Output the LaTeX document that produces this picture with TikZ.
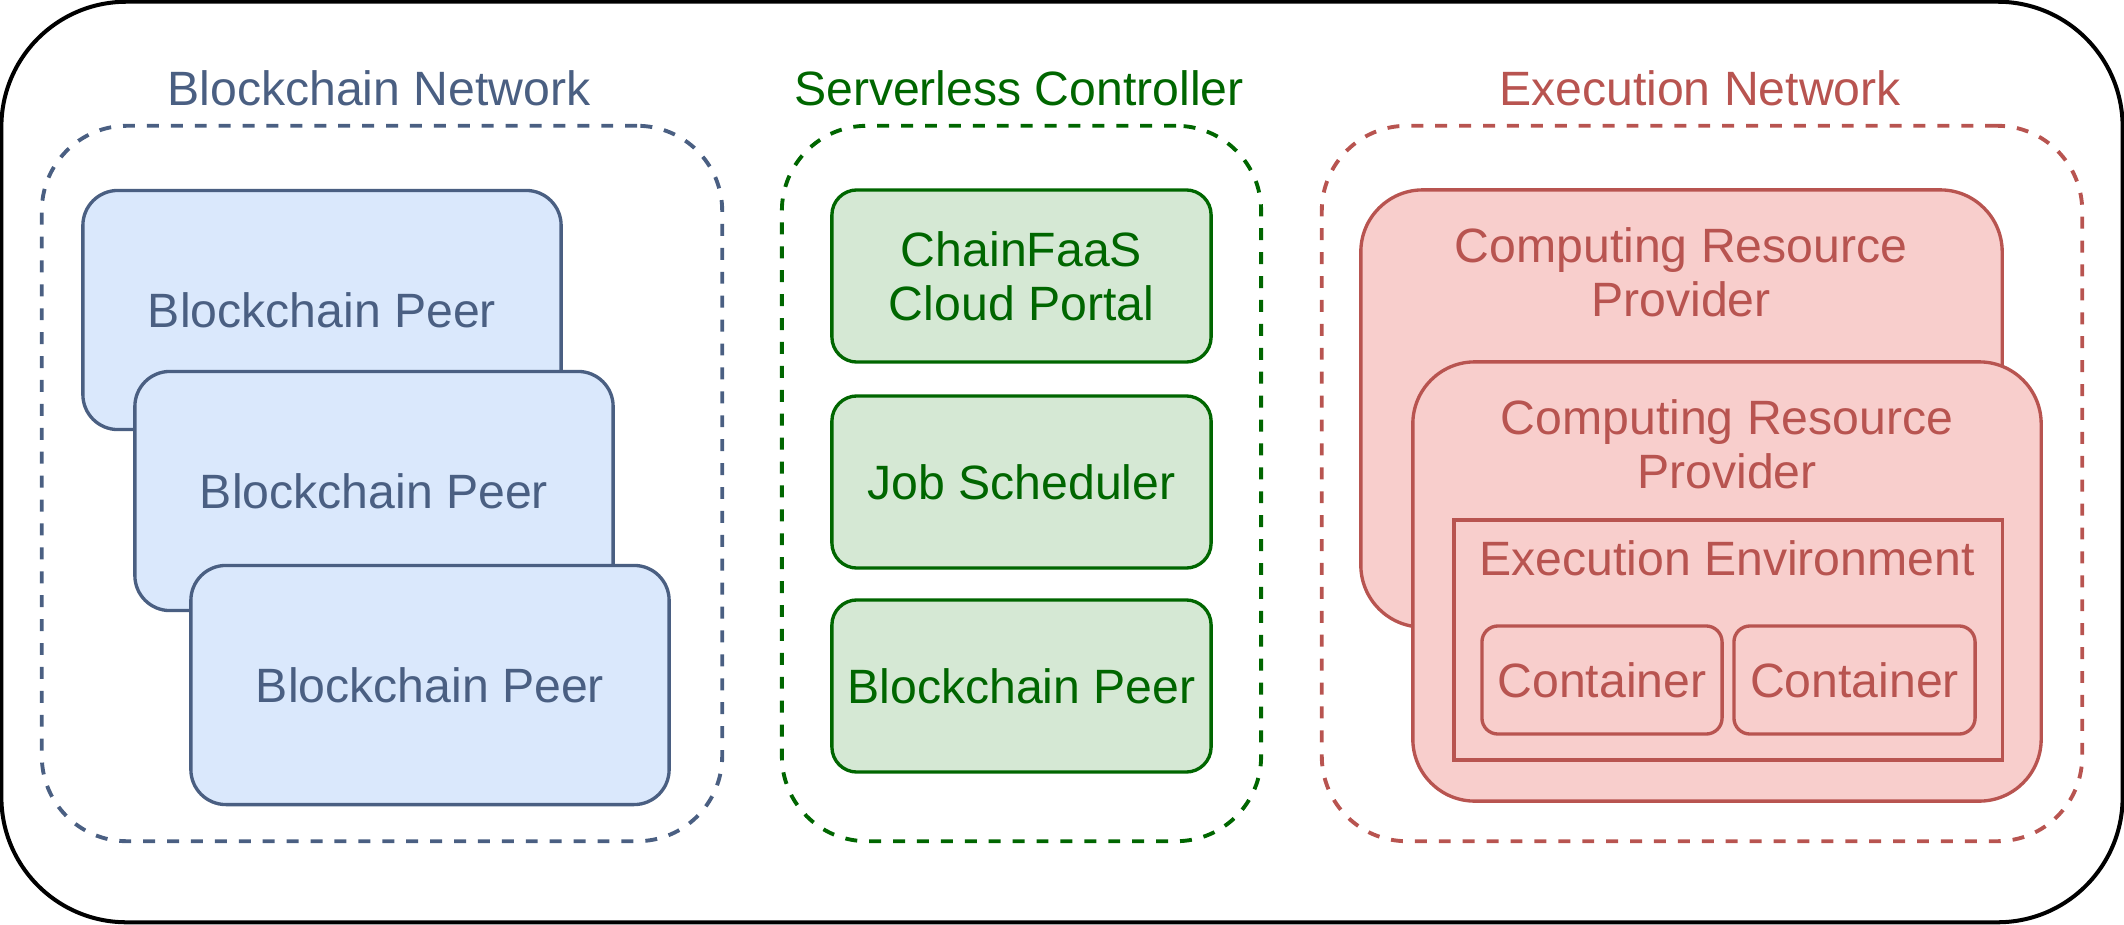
\documentclass[tikz,border=0pt]{standalone}
\usepackage{fontspec}
\setmainfont{Liberation Sans}
\usetikzlibrary{positioning}
\definecolor{peerblue}{HTML}{4A5F82}
\definecolor{peerfill}{HTML}{DAE8FC}
\definecolor{ctrlgreen}{HTML}{006600}
\definecolor{ctrlfill}{HTML}{D5E8D4}
\definecolor{execred}{HTML}{B85450}
\definecolor{execfill}{HTML}{F8CECC}
\tikzset{
  group/.style={draw,dash pattern=on 3.4pt off 3.4pt,line width=1.1pt,rounded corners=0.85cm,inner sep=0pt},
  peer/.style={draw=peerblue,fill=peerfill,text=peerblue,line width=0.95pt,rounded corners=0.35cm,
    minimum width=4.78cm,minimum height=2.39cm,inner sep=0pt},
  ctrl/.style={draw=ctrlgreen,fill=ctrlfill,text=ctrlgreen,line width=0.95pt,rounded corners=0.25cm,
    minimum width=3.79cm,minimum height=1.72cm,inner sep=0pt,align=center},
  provider/.style={draw=execred,fill=execfill,line width=0.95pt,rounded corners=0.62cm,inner sep=0pt},
  cont/.style={draw=execred,text=execred,line width=0.95pt,rounded corners=0.16cm,
    minimum height=1.08cm,inner sep=0pt}
}
\begin{document}
\begin{tikzpicture}[x=0.01cm,y=-0.01cm,font=\fontsize{13.7}{15.4}\selectfont]
\useasboundingbox (0,0) rectangle (2124,924);
\node[draw,line width=1.14pt,rounded corners=1.25cm,minimum width=21.20cm,minimum height=9.20cm,inner sep=0pt] (frame) at (1062,462) {};
% blockchain network
\node[group,draw=peerblue,minimum width=6.80cm,minimum height=7.15cm] (bnet) at (382,483.5) {};
\node[text=peerblue] (bnetlabel) at (379,88) {Blockchain Network};
\node[peer] (peerA) at (322,310) {Blockchain Peer};
\node[peer] (peerB) at (374,491) {Blockchain Peer};
\node[peer] (peerC) at (430,685) {Blockchain Peer};
% serverless controller
\node[group,draw=ctrlgreen,minimum width=4.79cm,minimum height=7.15cm] (ctrl) at (1021.5,483.5) {};
\node[text=ctrlgreen] (ctrllabel) at (1019,88) {Serverless Controller};
\node[ctrl] (portal) at (1021.5,276) {ChainFaaS\\Cloud Portal};
\node[ctrl] (sched) at (1021.5,482) {Job Scheduler};
\node[ctrl] (ctrlpeer) at (1021.5,686) {Blockchain Peer};
% execution network
\node[group,draw=execred,minimum width=7.60cm,minimum height=7.15cm] (enet) at (1702,483.5) {};
\node[text=execred] (enetlabel) at (1700,88) {Execution Network};
\node[provider,minimum width=6.41cm,minimum height=4.37cm] (provA) at (1681.5,408.5) {};
\node[text=execred,align=center] (provAtext) at (1681,272) {Computing Resource\\Provider};
\node[provider,minimum width=6.28cm,minimum height=4.39cm] (provB) at (1727,581.5) {};
\node[text=execred,align=center] (provBtext) at (1727,444) {Computing Resource\\Provider};
\node[draw=execred,line width=0.95pt,minimum width=5.48cm,minimum height=2.40cm,inner sep=0pt] (env) at (1728,640) {};
\node[text=execred] (envtext) at (1727,558) {Execution Environment};
\node[cont,minimum width=2.40cm] (contA) at (1602,680) {Container};
\node[cont,minimum width=2.41cm] (contB) at (1854.5,680) {Container};
\end{tikzpicture}
\end{document}
